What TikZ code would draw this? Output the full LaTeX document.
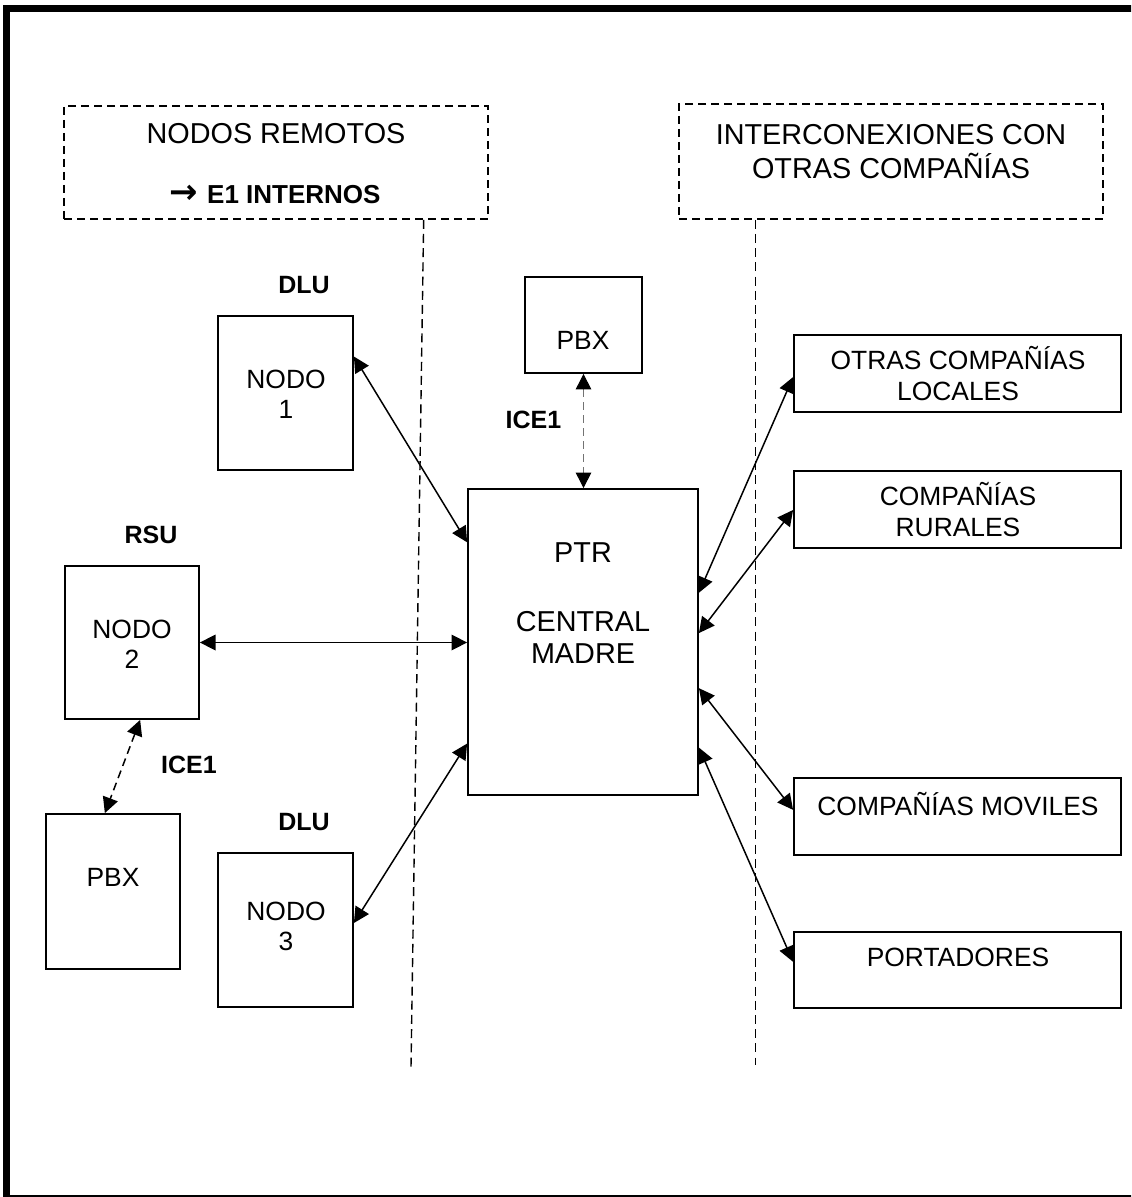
\documentclass[tikz,border=0pt]{standalone}
\usepackage{fontspec}
\setmainfont{Liberation Sans}
\newfontfamily\symfont{DejaVu Sans}
\usetikzlibrary{arrows.meta,calc}

\begin{document}
\begin{tikzpicture}[x=0.5pt,y=-0.5pt,
  box/.style={draw, line width=0.9pt, inner sep=0pt, rectangle},
  zone/.style={draw, line width=0.8pt, dash pattern=on 4pt off 2.5pt, inner sep=0pt, rectangle},
  sep/.style={line width=0.7pt, dash pattern=on 4.5pt off 2.6pt},
  txt/.style={inner sep=0pt, anchor=base, font=\fontsize{13.2}{15.5}\selectfont},
  big/.style={inner sep=0pt, anchor=base, font=\fontsize{14.4}{17}\selectfont},
  tag/.style={inner sep=0pt, anchor=base, font=\fontsize{12.5}{15}\selectfont\bfseries},
  tip/.tip={Triangle[length=7.8pt,width=7.8pt,color=black]},
  link/.style={line width=0.75pt, tip-tip},
  dlink/.style={line width=0.75pt, tip-tip, dash pattern=on 4pt off 2.5pt},
  glink/.style={line width=0.5pt, draw=black!55, tip-tip, dash pattern=on 4pt off 2.5pt}
]
\useasboundingbox (0,0) rectangle (1131,1197);
\clip (0,0) rectangle (1131,1197);

% page frame
\draw[line width=3.5pt] (6.5,1210) -- (6.5,8.5) -- (1140,8.5);
\draw[line width=0.8pt] (6.5,1195.8) -- (1140,1195.8);

% zone headers
\node[zone, minimum width=212pt, minimum height=56.5pt] (zrem) at (276,162.5) {};
\node[zone, minimum width=212pt, minimum height=57.5pt] (zint) at (891,161.5) {};
\node[big] (trem) at (276,143.3) {NODOS REMOTOS};
\node[inner sep=0pt, anchor=base, font=\fontsize{13}{15}\selectfont\bfseries] (te1) at (275,204)
  {\raisebox{0.2pt}{\fontsize{17}{17}\symfont\bfseries →}\hspace{1pt} E1 INTERNOS};
\node[big] (tint1) at (891,145) {INTERCONEXIONES CON};
\node[big] (tint2) at (891,178.3) {OTRAS COMPAÑÍAS};

% zone separators
\coordinate (s1a) at ($(zrem.south west)!0.847!(zrem.south east)$);
\coordinate (s1b) at (411,1067);
\coordinate (s2a) at ($(zint.south west)!0.182!(zint.south east)$);
\coordinate (s2b) at (s2a |- 0,1065);
\draw[sep] (s1a) -- (s1b);
\draw[sep] (s2a) -- (s2b);

% remote nodes
\node[box, minimum width=67.5pt, minimum height=77pt] (nodo1) at (285.5,393) {};
\node[box, minimum width=67pt, minimum height=76.5pt] (nodo2) at (132,642.5) {};
\node[box, minimum width=67.5pt, minimum height=77pt] (nodo3) at (285.5,930) {};
\node[box, minimum width=67pt, minimum height=77.5pt] (pbxL) at (113,891.5) {};
\node[box, minimum width=58.5pt, minimum height=48pt] (pbxT) at (583.5,325) {};

\node[tag] (dlu1) at (304,293.3) {DLU};
\node[tag] (rsu) at (151,543.3) {RSU};
\node[tag] (dlu3) at (304,830.7) {DLU};
\node[tag] (ice1a) at (533.5,428.3) {ICE1};
\node[tag] (ice1b) at (189,773.3) {ICE1};

\node[txt] (n1a) at (286,388.3) {NODO};
\node[txt] (n1b) at (286,418.3) {1};
\node[txt] (n2a) at (132,638.3) {NODO};
\node[txt] (n2b) at (132,668.3) {2};
\node[txt] (n3a) at (286,920) {NODO};
\node[txt] (n3b) at (286,950) {3};
\node[txt] (tpbxT) at (583,350) {PBX};
\node[txt] (tpbxL) at (113,886.7) {PBX};

% central office
\node[box, minimum width=115pt, minimum height=153pt] (ptr) at (583,642) {};
\node[big] (tptr) at (583,562.7) {PTR};
\node[big] (tcen) at (583,631.7) {CENTRAL};
\node[big] (tmad) at (583,663.3) {MADRE};

% other carriers
\node[box, minimum width=163.5pt, minimum height=38.5pt] (otras) at (957.5,373.5) {};
\node[box, minimum width=163.5pt, minimum height=38.5pt] (rur) at (957.5,509.5) {};
\node[box, minimum width=163.5pt, minimum height=38.5pt] (mov) at (957.5,816.5) {};
\node[box, minimum width=163.5pt, minimum height=38pt] (port) at (957.5,970) {};
\node[txt] (to1) at (958,370) {OTRAS COMPAÑÍAS};
\node[txt] (to2) at (958,400.7) {LOCALES};
\node[txt] (tr1) at (958,505.7) {COMPAÑÍAS};
\node[txt] (tr2) at (958,536.7) {RURALES};
\node[txt] (tm) at (958,815) {COMPAÑÍAS MOVILES};
\node[txt] (tp) at (958,966.7) {PORTADORES};

% links
\draw[link] ($(nodo1.north east)!0.266!(nodo1.south east)$) -- ($(ptr.north west)!0.176!(ptr.south west)$);
\draw[link] (nodo2.east) -- (nodo2.east -| ptr.west);
\draw[link] ($(nodo3.north east)!0.455!(nodo3.south east)$) -- ($(ptr.north west)!0.830!(ptr.south west)$);
\draw[glink] (pbxT.south) -- (pbxT.south |- ptr.north);
\draw[dlink] ($(nodo2.south west)!0.56!(nodo2.south east)$) -- ($(pbxL.north west)!0.44!(pbxL.north east)$);

\draw[link] ($(ptr.north east)!0.340!(ptr.south east)$) -- ($(otras.north west)!0.545!(otras.south west)$);
\draw[link] ($(ptr.north east)!0.471!(ptr.south east)$) -- ($(rur.north west)!0.506!(rur.south west)$);
\draw[link] ($(ptr.north east)!0.650!(ptr.south east)$) -- ($(mov.north west)!0.416!(mov.south west)$);
\draw[link] ($(ptr.north east)!0.843!(ptr.south east)$) -- ($(port.north west)!0.395!(port.south west)$);
\end{tikzpicture}
\end{document}
